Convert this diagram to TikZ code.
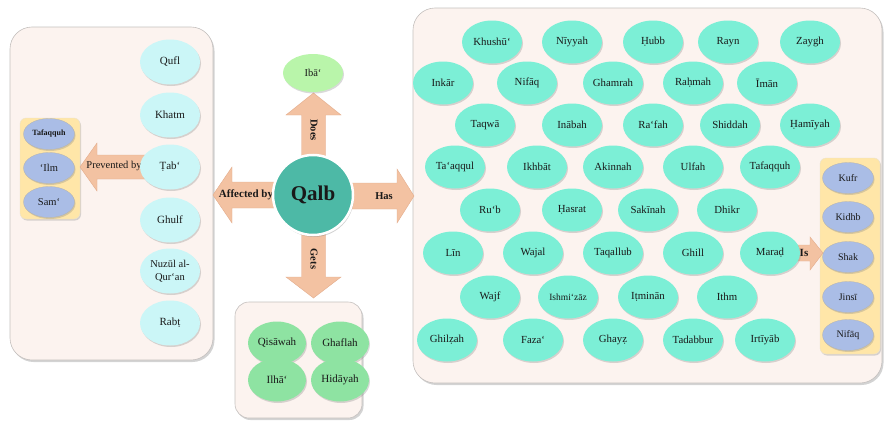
\documentclass[tikz,border=0pt]{standalone}
\usepackage{fontspec}
\setmainfont{Liberation Serif}
\usetikzlibrary{shapes.geometric,shadows}
\definecolor{panelbg}{HTML}{FCF3EF}
\definecolor{panelbd}{HTML}{C4C0BE}
\definecolor{tealc}{HTML}{7CEFD6}
\definecolor{cyanc}{HTML}{CBF6F7}
\definecolor{lgreen}{HTML}{B9F5AA}
\definecolor{mgreen}{HTML}{8EE3A2}
\definecolor{purplec}{HTML}{AABDE6}
\definecolor{yellowc}{HTML}{FFE6A8}
\definecolor{arrowc}{HTML}{F3C2A2}
\definecolor{arrowd}{HTML}{E3AC8C}
\definecolor{qalbc}{HTML}{4DB9A6}
\tikzset{
  panel/.style={draw=panelbd, line width=0.6pt, fill=panelbg, rounded corners=22pt,
    drop shadow={shadow xshift=1.5pt, shadow yshift=-2pt, opacity=0.35}},
  ybox/.style={draw=yellowc!80!black!40, fill=yellowc, rounded corners=6pt,
    drop shadow={shadow xshift=1pt, shadow yshift=-1.5pt, opacity=0.3}},
  ell/.style={ellipse, inner sep=0pt, text=black!90,
    drop shadow={shadow xshift=1pt, shadow yshift=-1.5pt, opacity=0.3},
    font=\fontsize{10.8}{11.5}\selectfont},
  tealell/.style={ell, fill=tealc, minimum width=60pt, minimum height=43pt},
  cyanell/.style={ell, fill=cyanc, minimum width=60pt, minimum height=45pt, font=\fontsize{11}{12}\selectfont},
  lgell/.style={ell, fill=lgreen, minimum width=60pt, minimum height=38pt, font=\fontsize{10.5}{11}\selectfont},
  mgell/.style={ell, fill=mgreen, minimum width=58pt, minimum height=43pt, font=\fontsize{11}{12}\selectfont},
  purell/.style={ell, fill=purplec, draw=black!30, line width=0.3pt, minimum width=51pt, minimum height=31pt, font=\fontsize{10}{11}\selectfont},
  barrow/.style={fill=arrowc, draw=arrowd, line width=0.4pt},
  alabel/.style={font=\bfseries\fontsize{10.5}{11}\selectfont, text=black!90, inner sep=0pt}
}
\begin{document}
\begin{tikzpicture}[x=1pt,y=-1pt]
\useasboundingbox (0,0) rectangle (884,423);

% panels
\draw[panel] (10,27) rectangle (213,360);
\draw[panel] (413,8) rectangle (882,383);
\draw[panel, rounded corners=14pt] (235,302) rectangle (362,418);
\draw[ybox] (20,118) rectangle (80,219);
\draw[ybox] (820,158) rectangle (880,354);

% block arrows
% Does (up)
\draw[barrow] (301.5,230) -- (301.5,115) -- (286,115) -- (313.5,93) -- (341,115) -- (325.5,115) -- (325.5,230) -- cycle;
% Gets (down)
\draw[barrow] (301.5,165) -- (301.5,277) -- (286,277) -- (313.5,298) -- (341,277) -- (325.5,277) -- (325.5,165) -- cycle;
% Affected by (left)
\draw[barrow] (290,182) -- (232,182) -- (232,167) -- (213,195) -- (232,223) -- (232,208) -- (290,208) -- cycle;
% Has (right)
\draw[barrow] (335,183) -- (397,183) -- (397,169) -- (414,196) -- (397,223) -- (397,209) -- (335,209) -- cycle;
% Prevented by (left)
\draw[barrow] (145,155) -- (97,155) -- (97,143) -- (80,167) -- (97,191) -- (97,179) -- (145,179) -- cycle;
% Is (right)
\draw[barrow] (795,245) -- (810,245) -- (810,237) -- (823,253) -- (810,270) -- (810,261) -- (795,261) -- cycle;

% arrow labels
\node[alabel, font=\fontsize{10.5}{11}\selectfont] (lprev) at (114,166) {Prevented by};
\node[alabel, font=\bfseries\fontsize{11}{12}\selectfont] (laff) at (246,195) {Affected by};
\node[alabel] (lhas) at (384,196) {Has};
\node[alabel, rotate=-90] (ldoes) at (314,130) {Does};
\node[alabel, rotate=-90] (lgets) at (314,259) {Gets};
\node[alabel, font=\bfseries\fontsize{11}{12}\selectfont] (lis) at (804,253) {Is};

% center
\node[circle, fill=qalbc, draw=white, line width=2.5pt, minimum size=80pt, inner sep=0pt,
  drop shadow={shadow xshift=1pt, shadow yshift=-2pt, opacity=0.35},
  font=\bfseries\fontsize{21}{22}\selectfont, text=black!90] (qalb) at (313,195) {Qalb};
\node[lgell] (iba) at (313,73) {Ibā‘};

% left panel
\node[cyanell] (qufl) at (170,62) {Qufl};
\node[cyanell] (khatm) at (170,115) {Khatm};
\node[cyanell] (tab) at (170,167) {Ṭab‘};
\node[cyanell] (ghulf) at (170,220) {Ghulf};
\node[cyanell, align=center, font=\fontsize{10.5}{12.5}\selectfont] (nuzul) at (170,271) {Nuzūl al-\\Qur‘an};
\node[cyanell] (rabt) at (170,323) {Rabṭ};

\node[purell, font=\bfseries\fontsize{8}{9}\selectfont] (ptafaqquh) at (49,134) {Tafaqquh};
\node[purell, font=\fontsize{10.5}{11}\selectfont] (pilm) at (49,168) {‘Ilm};
\node[purell, font=\fontsize{10.5}{11}\selectfont] (psam) at (49,202) {Sam‘};

% bottom panel
\node[mgell] (qisawah) at (277,343) {Qisāwah};
\node[mgell] (ghaflah) at (340,343) {Ghaflah};
\node[mgell] (ilha) at (277,380) {Ilhā‘};
\node[mgell] (hidayah) at (340,380) {Hidāyah};

% right panel rows
\node[tealell] (khushu) at (492,42) {Khushū‘};
\node[tealell] (niyyah) at (572,42) {Nīyyah};
\node[tealell] (hubb) at (653,42) {Ḥubb};
\node[tealell] (rayn) at (728,42) {Rayn};
\node[tealell] (zaygh) at (810,42) {Zaygh};

\node[tealell] (inkar) at (443,83) {Inkār};
\node[tealell] (nifaq) at (527,83) {Nifāq};
\node[tealell] (ghamrah) at (613,83) {Ghamrah};
\node[tealell] (rahmah) at (693,83) {Raḥmah};
\node[tealell] (iman) at (767,83) {Īmān};

\node[tealell] (taqwa) at (485,125) {Taqwā};
\node[tealell] (inabah) at (572,125) {Inābah};
\node[tealell] (rafah) at (653,125) {Ra‘fah};
\node[tealell] (shiddah) at (730,125) {Shiddah};
\node[tealell] (hamiyah) at (810,125) {Ḥamīyah};

\node[tealell] (taaqqul) at (455,167) {Ta‘aqqul};
\node[tealell] (ikhbat) at (537,167) {Ikhbāt};
\node[tealell] (akinnah) at (613,167) {Akinnah};
\node[tealell] (ulfah) at (693,167) {Ulfah};
\node[tealell] (tafaqquh) at (770,167) {Tafaqquh};

\node[tealell] (rub) at (490,210) {Ru‘b};
\node[tealell] (hasrat) at (572,210) {Ḥasrat};
\node[tealell] (sakinah) at (648,210) {Sakīnah};
\node[tealell] (dhikr) at (727,210) {Dhikr};

\node[tealell] (lin) at (453,253) {Līn};
\node[tealell] (wajal) at (533,253) {Wajal};
\node[tealell] (taqallub) at (613,253) {Taqallub};
\node[tealell] (ghill) at (693,253) {Ghill};
\node[tealell] (marad) at (770,253) {Maraḍ};

\node[tealell] (wajf) at (490,297) {Wajf};
\node[tealell, font=\fontsize{9.5}{10}\selectfont] (ishmizaz) at (568,297) {Ishmi‘zāz};
\node[tealell] (itminan) at (648,297) {Iṭminān};
\node[tealell] (ithm) at (727,297) {Ithm};

\node[tealell] (ghilzah) at (447,340) {Ghilẓah};
\node[tealell] (faza) at (533,340) {Faza‘};
\node[tealell] (ghayz) at (613,340) {Ghayẓ};
\node[tealell] (tadabbur) at (693,340) {Tadabbur};
\node[tealell] (irtiyab) at (765,340) {Irtīyāb};

% right yellow box
\node[purell] (kufr) at (848,178) {Kufr};
\node[purell] (kidhb) at (848,217) {Kidhb};
\node[purell] (shak) at (848,257) {Shak};
\node[purell] (jinsi) at (848,297) {Jinsī};
\node[purell] (nifaq2) at (848,335) {Nifāq};
\end{tikzpicture}
\end{document}
